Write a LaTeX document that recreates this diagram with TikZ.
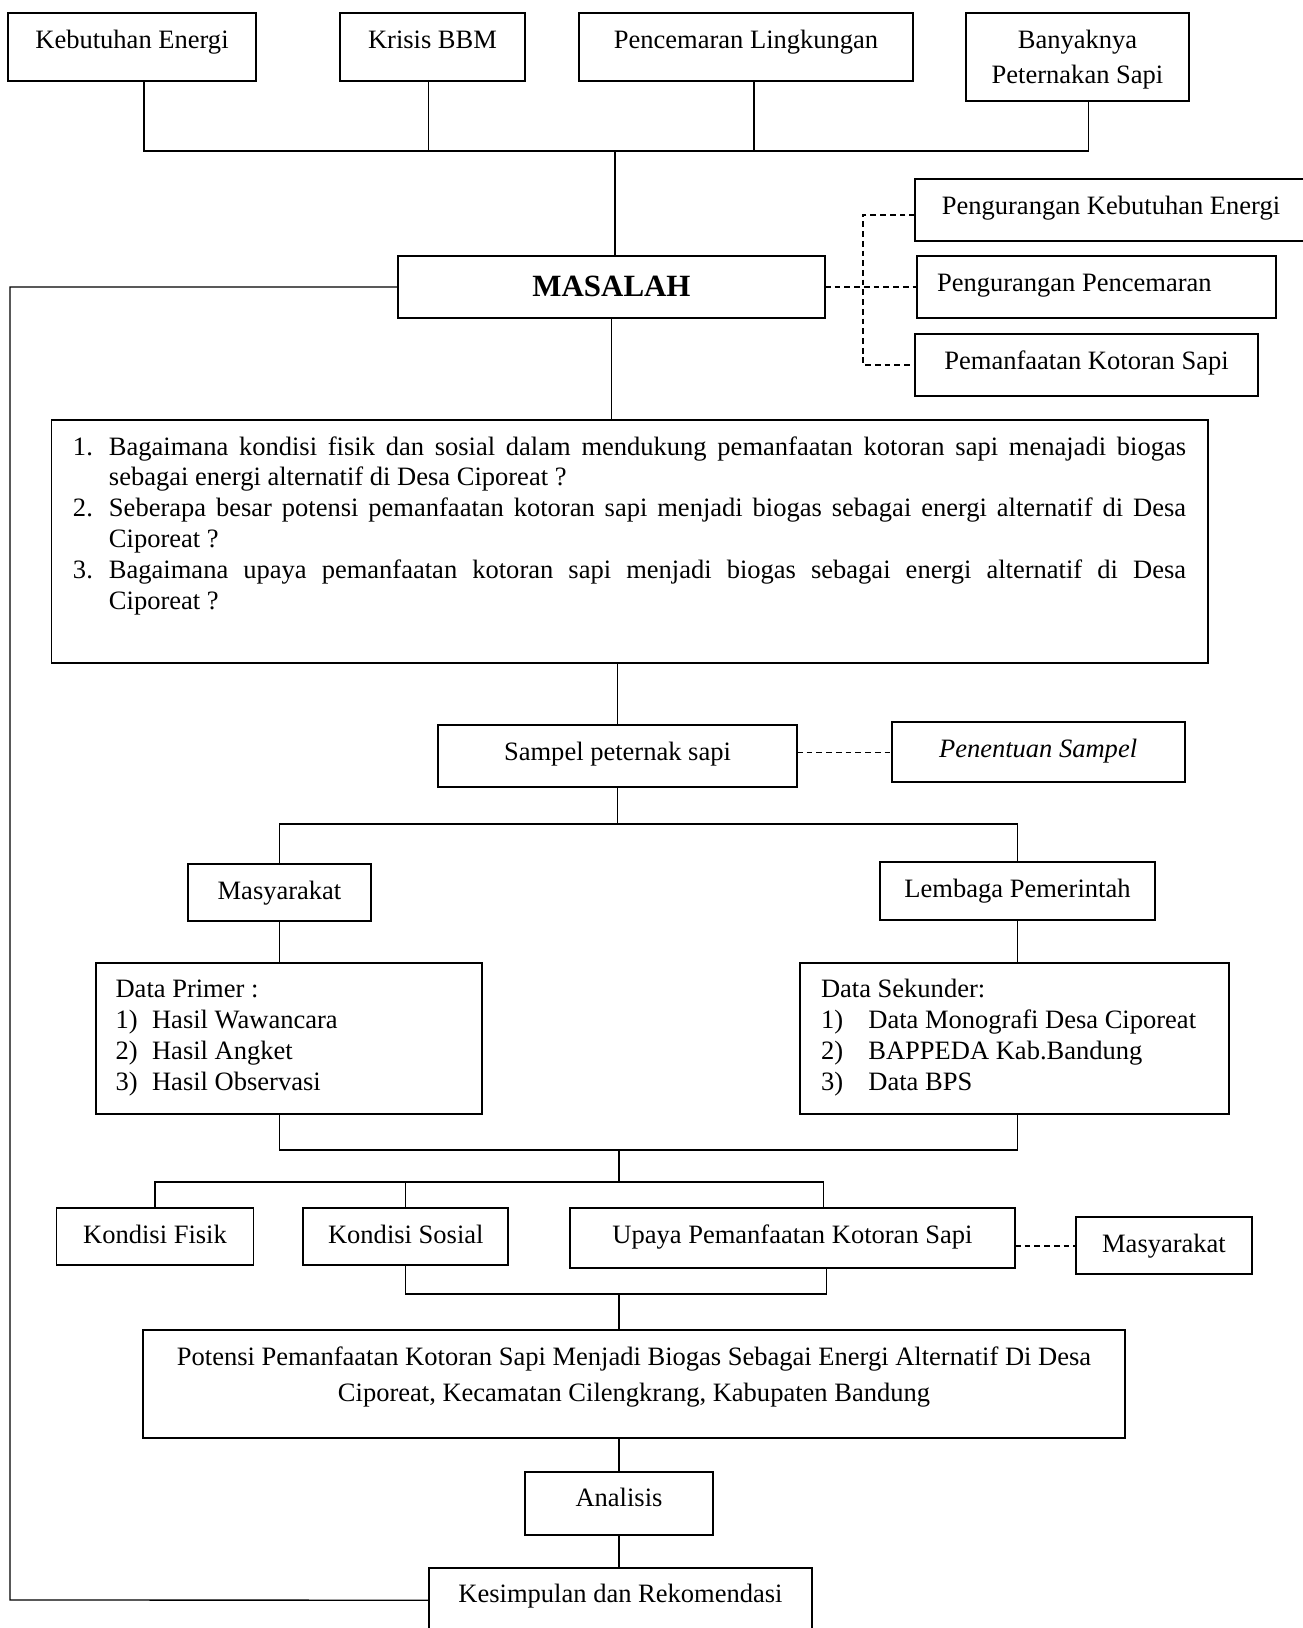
\documentclass[tikz,border=0pt]{standalone}
\usepackage{fontspec}
\setmainfont{Liberation Serif}
\newdimen\kpu
\kpu=0.4525pt
\newcommand\kpbutir[3]{\noindent\makebox[36\kpu][l]{#1}%
  \makebox[1077\kpu][s]{\spaceskip=0pt\relax #2}\par
  \noindent\hspace*{36\kpu}#3\par}
\newcommand\kpno[2]{\makebox[#1][l]{#2}}
\tikzset{
  kp diagram/.style={font=\fontsize{12pt}{14pt}\selectfont,
    x=\kpu, y=-\kpu},
  kp box/.style={draw, line width=0.9pt, inner sep=0pt, outer sep=0pt,
    anchor=north west, align=flush center, text height=35\kpu},
  kp list box/.style={kp box, align=flush left, inner xsep=20\kpu},
  kp line/.style={draw, line width=0.6pt},
  kp dash/.style={draw, line width=0.7pt, dash pattern=on 2.6pt off 1.8pt}
}
\begin{document}
\begin{tikzpicture}[kp diagram]
\useasboundingbox (0,0) rectangle (1303,1628);
% latar belakang
\node[kp box, text width=248\kpu, text depth=33\kpu] (kebutuhan) at (8,13) {Kebutuhan Energi};
\node[kp box, text width=185\kpu, text depth=33\kpu] (krisis) at (340,13) {Krisis BBM};
\node[kp box, text width=334\kpu, text depth=33\kpu] (pencemaran) at (579,13) {Pencemaran Lingkungan};
\node[kp box, text width=223\kpu, text depth=53\kpu,
  font=\fontsize{12pt}{16pt}\selectfont] (banyaknya) at (966,13) {Banyaknya\\Peternakan Sapi};
% masalah
\node[kp box, text width=427\kpu, text height=40\kpu, text depth=22\kpu,
  font=\fontsize{14pt}{16pt}\selectfont\bfseries] (masalah) at (398,256) {MASALAH};
\node[kp box, text width=392\kpu, text depth=27\kpu] (kurangenergi) at (915,179) {Pengurangan Kebutuhan Energi};
\node[kp list box, text width=319\kpu, text depth=27\kpu] (kurangcemar) at (917,256) {Pengurangan Pencemaran};
\node[kp box, text width=343\kpu, text depth=27\kpu] (manfaat) at (915,334) {Pemanfaatan Kotoran Sapi};
% rumusan masalah
\node[kp list box, align=justify, inner xsep=21.5\kpu, text width=1113\kpu, text depth=208\kpu] (rumusan) at (51.5,420) {%
  \kpbutir{1.}{Bagaimana kondisi fisik dan sosial dalam mendukung pemanfaatan kotoran sapi menajadi biogas}{sebagai energi alternatif di Desa Ciporeat ?}%
  \kpbutir{2.}{Seberapa besar potensi pemanfaatan kotoran sapi menjadi biogas sebagai energi alternatif di Desa}{Ciporeat ?}%
  \kpbutir{3.}{Bagaimana upaya pemanfaatan kotoran sapi menjadi biogas sebagai energi alternatif di Desa}{Ciporeat ?}};
% sampel dan sumber data
\node[kp box, text width=359\kpu, text depth=27\kpu] (sampel) at (438,725) {Sampel peternak sapi};
\node[kp box, text width=293\kpu, text depth=25\kpu] (penentuan) at (891.6,722.3) {\itshape Penentuan Sampel};
\node[kp box, text width=183\kpu, text depth=22\kpu] (masyarakat) at (188,864) {Masyarakat};
\node[kp box, text width=275\kpu, text depth=23\kpu] (lembaga) at (880,862) {Lembaga Pemerintah};
\node[kp list box, text width=346\kpu, text depth=116\kpu] (primer) at (95.6,962.7) {Data Primer :\\
  \kpno{36.5\kpu}{1)}Hasil Wawancara\\
  \kpno{36.5\kpu}{2)}Hasil Angket\\
  \kpno{36.5\kpu}{3)}Hasil Observasi};
\node[kp list box, inner xsep=21\kpu, text width=387\kpu, text depth=116\kpu] (sekunder) at (800,962.7) {Data Sekunder:\\
  \kpno{47.4\kpu}{1)}Data Monografi Desa Ciporeat\\
  \kpno{47.4\kpu}{2)}BAPPEDA Kab.Bandung\\
  \kpno{47.4\kpu}{3)}Data BPS};
% aspek kajian
\node[kp box, text width=197\kpu, text depth=22\kpu] (fisik) at (56.5,1208.3) {Kondisi Fisik};
\node[kp box, text width=205\kpu, text depth=22\kpu] (sosial) at (303.3,1208.3) {Kondisi Sosial};
\node[kp box, text width=445\kpu, text depth=25\kpu] (upaya) at (570,1208.3) {Upaya Pemanfaatan Kotoran Sapi};
\node[kp box, text width=176\kpu, text depth=22\kpu] (masyarakatb) at (1076,1217.3) {Masyarakat};
% hasil
\node[kp box, text width=982\kpu, text depth=73\kpu,
  font=\fontsize{12pt}{16.5pt}\selectfont] (potensi) at (143,1330) {Potensi Pemanfaatan Kotoran Sapi Menjadi Biogas Sebagai Energi Alternatif Di Desa\\Ciporeat, Kecamatan Cilengkrang, Kabupaten Bandung};
\node[kp box, text width=188\kpu, text depth=28\kpu] (analisis) at (525,1471.7) {Analisis};
\node[kp box, text width=383\kpu, text depth=30\kpu] (kesimpulan) at (429,1567.7) {Kesimpulan dan Rekomendasi};
% garis penghubung
\coordinate (bustop) at (615,151);
\draw[kp line] ([xshift=12\kpu]kebutuhan.south) |- (bustop) -| ([xshift=11\kpu]banyaknya.south);
\draw[kp line] ([xshift=-4\kpu]krisis.south) -- ([xshift=-4\kpu]krisis.south |- bustop);
\draw[kp line] ([xshift=8\kpu]pencemaran.south) -- ([xshift=8\kpu]pencemaran.south |- bustop);
\draw[kp line] (bustop) -- (bustop |- masalah.north);
\draw[kp dash] (masalah.east) -- (kurangcemar.west);
\coordinate (cabang) at (863,287);
\draw[kp dash] ([yshift=-5\kpu]kurangenergi.west) -| (cabang) |- (manfaat.west);
\coordinate (balik) at (10,1600);
\draw[kp line] (masalah.west) -| (balik) -- (kesimpulan.west);
\draw[kp line] (masalah.south) -- (masalah.south |- rumusan.north);
\draw[kp line] (sampel.north |- rumusan.south) -- (sampel.north);
\draw[kp dash] (sampel.east |- penentuan.west) -- (penentuan.west);
\coordinate (busdata) at (619,824);
\draw[kp line] (sampel.south) -- (sampel.south |- busdata);
\draw[kp line] (masyarakat.north) |- (busdata) -| (lembaga.north);
\draw[kp line] (masyarakat.south) -- (masyarakat.south |- primer.north);
\draw[kp line] (lembaga.south) -- (lembaga.south |- sekunder.north);
\coordinate (bushasil) at (619,1150);
\draw[kp line] (masyarakat.south |- primer.south) |- (bushasil) -| (lembaga.south |- sekunder.south);
\coordinate (buskondisi) at (619,1182);
\draw[kp line] (bushasil) -- (buskondisi);
\draw[kp line] (fisik.north) |- (buskondisi) -| ([xshift=31\kpu]upaya.north);
\draw[kp line] (sosial.north) -- (sosial.north |- buskondisi);
\draw[kp dash] (upaya.east |- masyarakatb.west) -- (masyarakatb.west);
\coordinate (busgabung) at (619,1294);
\draw[kp line] (sosial.south) |- (busgabung) -| ([xshift=34\kpu]upaya.south);
\draw[kp line] (busgabung) -- (busgabung |- potensi.north);
\draw[kp line] (analisis.north |- potensi.south) -- (analisis.north);
\draw[kp line] (analisis.south) -- (analisis.south |- kesimpulan.north);
\end{tikzpicture}
\end{document}
